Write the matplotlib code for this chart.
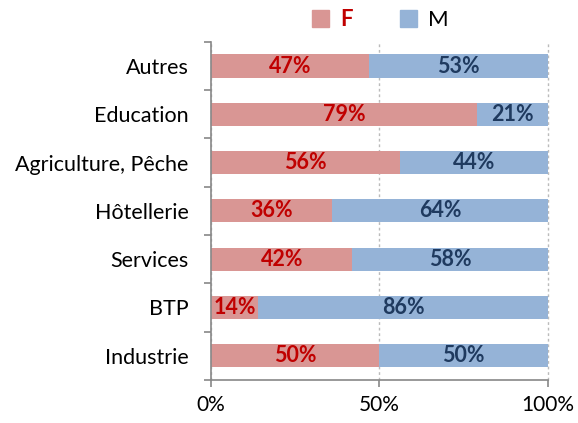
import matplotlib.pyplot as plt
import numpy as np
from matplotlib.patches import Patch

plt.rcParams['font.family'] = ['Lato', 'DejaVu Sans']

# Données
secteurs = ['Industrie', 'BTP', 'Services', 'Hôtellerie',
            'Agriculture, Pêche', 'Education', 'Autres']
femmes = [50, 14, 42, 36, 56, 79, 47]
hommes = [50, 86, 58, 64, 44, 21, 53]

col_f = '#D99694'
col_m = '#95B3D7'

fig = plt.figure(figsize=(5.78, 4.23), dpi=100)
ax = fig.add_axes([0.365, 0.102, 0.583, 0.799])

y = np.arange(len(secteurs))
ax.barh(y, femmes, height=0.48, color=col_f, zorder=2)
ax.barh(y, hommes, left=femmes, height=0.48, color=col_m, zorder=2)

# Étiquettes dans les barres
for i in range(len(secteurs)):
    ax.text(femmes[i] / 2, y[i], f'{femmes[i]}%', ha='center', va='center',
            color='#C00000', fontweight='bold', fontsize=15.5, zorder=3)
    ax.text(femmes[i] + hommes[i] / 2, y[i], f'{hommes[i]}%', ha='center',
            va='center', color='#1F3A5F', fontweight='bold', fontsize=15.5,
            zorder=3)

ax.set_xlim(0, 100)
ax.set_ylim(-0.5, len(secteurs) - 0.5)
ax.set_xticks([0, 50, 100])
ax.set_xticklabels(['0%', '50%', '100%'], fontsize=15)
ax.set_yticks(y)
ax.set_yticklabels(secteurs, fontsize=15.5)
ax.tick_params(axis='y', length=0, pad=16)
ax.set_yticks(np.arange(-0.5, len(secteurs)), minor=True)
ax.tick_params(axis='y', which='minor', length=5, color='#888888', width=1.2)
ax.tick_params(axis='x', length=5, color='#888888', width=1.2, pad=6)

ax.xaxis.grid(True, linestyle=(0, (2, 2)), color='#BBBBBB', linewidth=1, zorder=0)
for gl in ax.get_xgridlines():
    gl.set_clip_on(False)
for s in ['top', 'right']:
    ax.spines[s].set_visible(False)
for s in ['left', 'bottom']:
    ax.spines[s].set_color('#888888')
    ax.spines[s].set_linewidth(1.2)

handles = [Patch(color=col_f, label='F'), Patch(color=col_m, label='M')]
leg = fig.legend(handles=handles, loc='upper center', bbox_to_anchor=(0.658, 1.025),
                 ncol=2, frameon=False, fontsize=16, handlelength=0.8,
                 handleheight=0.8, columnspacing=2.1, handletextpad=0.5)
leg.get_texts()[0].set_color('#C00000')
leg.get_texts()[0].set_fontweight('bold')

fig.savefig('out.png', dpi=100)
